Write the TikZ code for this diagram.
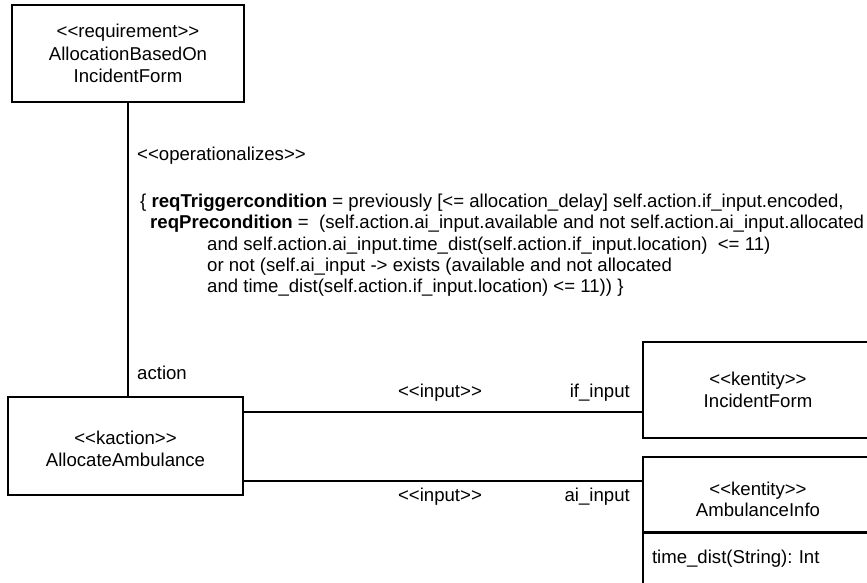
\documentclass[tikz,border=0pt]{standalone}
\usepackage{fontspec}
\setmainfont{Liberation Sans}
\usetikzlibrary{positioning,calc}
\frenchspacing
\newcommand{\stype}[1]{<{}<#1>{}>}
\tikzset{
  umlbox/.style={draw, line width=1.6pt, align=center, inner sep=0pt,
    font=\fontsize{18.6}{21.5}\selectfont},
  lbl/.style={inner sep=0pt, font=\fontsize{18.6}{21.5}\selectfont},
  conn/.style={line width=1.6pt}
}
\begin{document}
\begin{tikzpicture}[x=1pt,y=-1pt]
\clip (0,0) rectangle (867,583);
\node[umlbox, minimum width=232pt, minimum height=97pt, font=\fontsize{18.6}{22.5}\selectfont] (req) at (128,53.5) {\stype{requirement}\\AllocationBasedOn\\IncidentForm};
\node[umlbox, minimum width=235pt, minimum height=98pt, text height=41pt] (act) at (125.5,446) {\stype{kaction}\\AllocateAmbulance};
\node[umlbox, minimum width=230pt, minimum height=96pt] (inc) at (758,390) {\stype{kentity}\\IncidentForm};
\node[umlbox, minimum width=230pt, minimum height=75pt, text height=45pt] (amb) at (758,494.5) {\stype{kentity}\\AmbulanceInfo};
\node[umlbox, minimum width=230pt, minimum height=50pt, text width=212pt, align=left, anchor=north] (ambop) at (amb.south) {time\_dist(String): Int};

\draw[conn] (req.south) -- (req.south |- act.north);
\draw[conn] ([yshift=-16pt]act.north east) -- ([yshift=-16pt]act.north east -| inc.west);
\draw[conn] ([yshift=15pt]act.south east) -- ([yshift=15pt]act.south east -| amb.west);

\node[lbl, anchor=west] (opst) at (137,156) {\stype{operationalizes}};
\node[lbl, anchor=north west, align=left, font=\fontsize{18.6}{21.3}\selectfont] (ocl) at (140,194) {%
\{ \textbf{reqTriggercondition} = previously [<= allocation\_delay] self.action.if\_input.encoded,\\
\hspace*{10pt}\textbf{reqPrecondition} = \ (self.action.ai\_input.available and not self.action.ai\_input.allocated\\
\hspace*{67pt}and self.action.ai\_input.time\_dist(self.action.if\_input.location) \ <= 11)\\
\hspace*{67pt}or not (self.ai\_input -> exists (available and not allocated\\
\hspace*{67pt}and time\_dist(self.action.if\_input.location) <= 11)) \}};
\node[lbl, anchor=west] (rolea) at (137,373) {action};
\node[lbl] (st1) at (440,393) {\stype{input}};
\node[lbl, anchor=east] (rolei) at (630,393) {if\_input};
\node[lbl] (st2) at (440,497) {\stype{input}};
\node[lbl, anchor=east] (roleai) at (630,497) {ai\_input};
\end{tikzpicture}
\end{document}
